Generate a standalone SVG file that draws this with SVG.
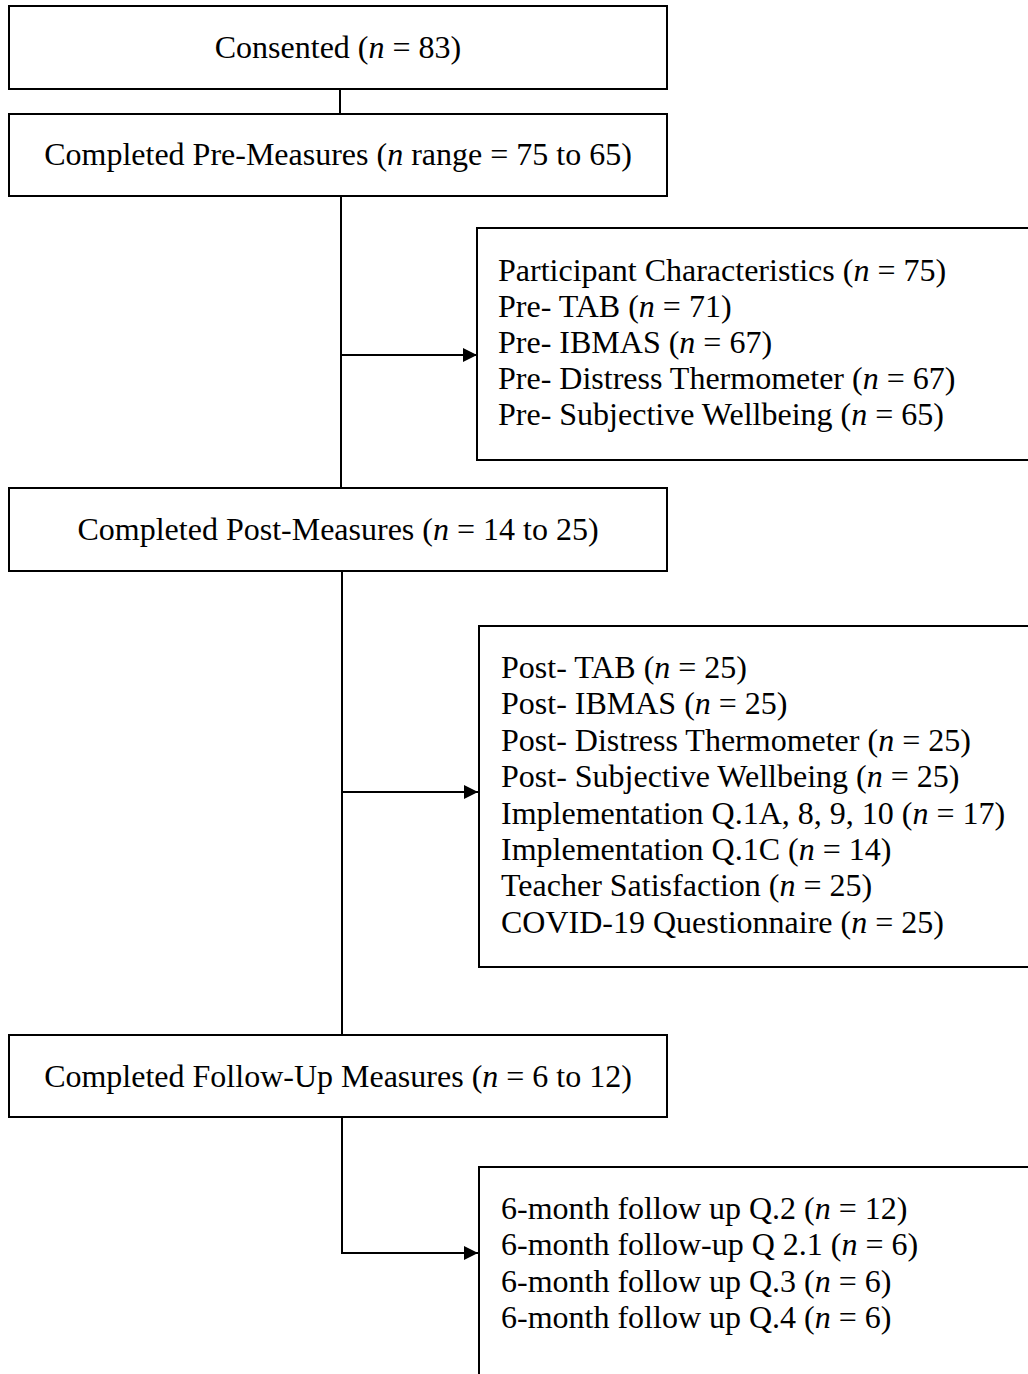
<svg xmlns="http://www.w3.org/2000/svg" width="1028" height="1374" viewBox="0 0 1028 1374">
<defs>
<style>
.box{fill:#fff;stroke:#000;stroke-width:2}
.t{font-family:"Liberation Serif","Times New Roman",serif;font-size:32px;fill:#000}
.c{text-anchor:middle}
.i{font-style:italic}
.ln{fill:none;stroke:#000;stroke-width:2}
</style>
<marker id="ah" viewBox="0 0 14 14" refX="14" refY="7" markerWidth="14" markerHeight="14" markerUnits="userSpaceOnUse" orient="auto">
<path d="M0,0 L14,7 L0,14 Z" fill="#000"/>
</marker>
</defs>
<rect width="1028" height="1374" fill="#fff"/>
<g id="connectors">
<line class="ln" x1="340" y1="89" x2="340" y2="114"/>
<line class="ln" x1="341" y1="196" x2="341" y2="488"/>
<line class="ln" x1="341" y1="355" x2="477" y2="355" marker-end="url(#ah)"/>
<line class="ln" x1="342" y1="571" x2="342" y2="1035"/>
<line class="ln" x1="342" y1="792" x2="478" y2="792" marker-end="url(#ah)"/>
<polyline class="ln" points="342,1117 342,1253 478,1253" marker-end="url(#ah)"/>
</g>
<g id="consented">
<rect class="box" x="9" y="6" width="658" height="83"/>
<text class="t c" x="338" y="58">Consented (<tspan class="i">n</tspan> = 83)</text>
</g>
<g id="pre-measures">
<rect class="box" x="9" y="114" width="658" height="82"/>
<text class="t c" x="338" y="165">Completed Pre-Measures (<tspan class="i">n</tspan> range = 75 to 65)</text>
</g>
<g id="pre-list">
<rect class="box" x="477" y="228" width="570" height="232"/>
<text class="t" x="498" y="281">Participant Characteristics (<tspan class="i">n</tspan> = 75)</text>
<text class="t" x="498" y="317">Pre- TAB (<tspan class="i">n</tspan> = 71)</text>
<text class="t" x="498" y="353">Pre- IBMAS (<tspan class="i">n</tspan> = 67)</text>
<text class="t" x="498" y="389">Pre- Distress Thermometer (<tspan class="i">n</tspan> = 67)</text>
<text class="t" x="498" y="425">Pre- Subjective Wellbeing (<tspan class="i">n</tspan> = 65)</text>
</g>
<g id="post-measures">
<rect class="box" x="9" y="488" width="658" height="83"/>
<text class="t c" x="338" y="540">Completed Post-Measures (<tspan class="i">n</tspan> = 14 to 25)</text>
</g>
<g id="post-list">
<rect class="box" x="479" y="626" width="570" height="341"/>
<text class="t" x="501" y="678">Post- TAB (<tspan class="i">n</tspan> = 25)</text>
<text class="t" x="501" y="714">Post- IBMAS (<tspan class="i">n</tspan> = 25)</text>
<text class="t" x="501" y="751">Post- Distress Thermometer (<tspan class="i">n</tspan> = 25)</text>
<text class="t" x="501" y="787">Post- Subjective Wellbeing (<tspan class="i">n</tspan> = 25)</text>
<text class="t" x="501" y="824">Implementation Q.1A, 8, 9, 10 (<tspan class="i">n</tspan> = 17)</text>
<text class="t" x="501" y="860">Implementation Q.1C (<tspan class="i">n</tspan> = 14)</text>
<text class="t" x="501" y="896">Teacher Satisfaction (<tspan class="i">n</tspan> = 25)</text>
<text class="t" x="501" y="933">COVID-19 Questionnaire (<tspan class="i">n</tspan> = 25)</text>
</g>
<g id="follow-up">
<rect class="box" x="9" y="1035" width="658" height="82"/>
<text class="t c" x="338" y="1087">Completed Follow-Up Measures (<tspan class="i">n</tspan> = 6 to 12)</text>
</g>
<g id="follow-up-list">
<rect class="box" x="479" y="1167" width="570" height="240"/>
<text class="t" x="501" y="1219">6-month follow up Q.2 (<tspan class="i">n</tspan> = 12)</text>
<text class="t" x="501" y="1255">6-month follow-up Q 2.1 (<tspan class="i">n</tspan> = 6)</text>
<text class="t" x="501" y="1292">6-month follow up Q.3 (<tspan class="i">n</tspan> = 6)</text>
<text class="t" x="501" y="1328">6-month follow up Q.4 (<tspan class="i">n</tspan> = 6)</text>
</g>
</svg>
